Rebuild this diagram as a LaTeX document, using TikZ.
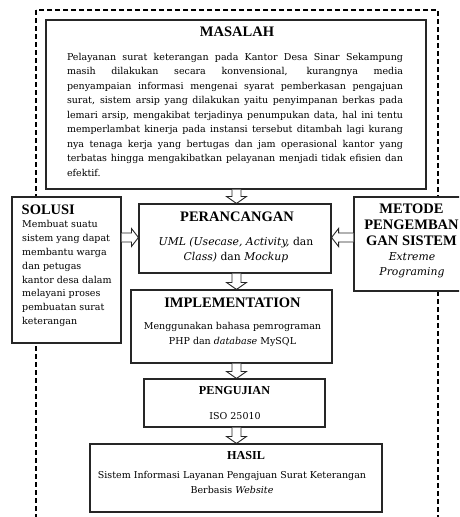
\documentclass[tikz,border=0pt]{standalone}
\usepackage{fontspec}
\setmainfont{DejaVu Serif}
\newfontfamily\ttlfont{Liberation Serif}
\usetikzlibrary{calc}
\newcommand{\vblock}[2]{%
  \draw[blockarr] ($(ax |- #1.south)+(-4.5,0)$) -- ($(ax |- #2.north)+(-4.5,-7)$)
    -- ($(ax |- #2.north)+(-10,-7)$) -- (ax |- #2.north) -- ($(ax |- #2.north)+(10,-7)$)
    -- ($(ax |- #2.north)+(4.5,-7)$) -- ($(ax |- #1.south)+(4.5,0)$);}
\begin{document}
\begin{tikzpicture}[x=1pt,y=-1pt,
  box/.style={draw=black!85, line width=1.1pt, fill=white, inner sep=0},
  outer/.style={draw, line width=1.7pt, dash pattern=on 5pt off 3pt},
  blockarr/.style={draw=black!85, line width=0.9pt, fill=white, line join=miter},
  ttl/.style={font=\ttlfont\bfseries\fontsize{14.5}{16}\selectfont, inner sep=0},
  ttls/.style={font=\ttlfont\bfseries\fontsize{12.2}{14}\selectfont, inner sep=0},
  body/.style={font=\fontsize{9.5}{14.5}\selectfont, inner sep=0, align=center},
  bigbody/.style={font=\fontsize{10.8}{15}\selectfont, inner sep=0, align=center}]
\clip (0,0) rectangle (459,517);
\useasboundingbox (0,0) rectangle (459,517);
\fill[white] (0,0) rectangle (459,517);
\coordinate (ax) at (236.5,0);
\coordinate (ay) at (0,237.5);
% outer dashed frame
\draw[outer] (36,10) rectangle (438,540);
% boxes
\node[box, minimum width=380, minimum height=169] (mas) at (236,104.5) {};
\node[box, minimum width=192, minimum height=69] (per) at (235,238.5) {};
\node[box, minimum width=109, minimum height=146] (sol) at (66.5,270) {};
\node[box, minimum width=118, minimum height=94] (met) at (413,244) {};
\node[box, minimum width=201, minimum height=73] (imp) at (231.5,326.5) {};
\node[box, minimum width=181, minimum height=48] (pen) at (234.5,403) {};
\node[box, minimum width=292, minimum height=68] (has) at (236,478) {};
% texts
\node[ttl] (masT) at (237,32) {MASALAH};
\node[body, text width=336pt, align=justify, anchor=north] (masB) at (235,53) {%
Pelayanan surat keterangan pada Kantor Desa Sinar Sekampung\linebreak
masih dilakukan secara konvensional, kurangnya media\linebreak
penyampaian informasi mengenai syarat pemberkasan pengajuan\linebreak
surat, sistem arsip yang dilakukan yaitu penyimpanan berkas pada\linebreak
lemari arsip, mengakibat terjadinya penumpukan data, hal ini tentu\linebreak
memperlambat kinerja pada instansi tersebut ditambah lagi kurang\linebreak
nya tenaga kerja yang bertugas dan jam operasional kantor yang\linebreak
terbatas hingga mengakibatkan pelayanan menjadi tidak efisien dan\linebreak
efektif.};
\node[ttl] (perT) at (237,217) {PERANCANGAN};
\node[bigbody, anchor=north] (perB) at (236,237.5) {\textit{UML (Usecase, Activity,} dan\\\textit{Class)} dan \textit{Mockup}};
\node[ttl, anchor=west] (solT) at (21.5,210) {SOLUSI};
\node[body, align=left, anchor=north west, font=\fontsize{9.5}{13.8}\selectfont] (solB) at (22,220.5) {Membuat suatu\\sistem yang dapat\\membantu warga\\dan petugas\\kantor desa dalam\\melayani proses\\pembuatan surat\\keterangan};
\node[ttl, align=center, anchor=north] (metT) at (411.5,204) {METODE\\PENGEMBAN\\GAN SISTEM};
\node[bigbody, anchor=north, font=\itshape\fontsize{10.8}{15}\selectfont] (metB) at (412,252) {Extreme\\Programing};
\node[ttl] (impT) at (232.5,303) {IMPLEMENTATION};
\node[body, anchor=north] (impB) at (232.5,322.5) {Menggunakan bahasa pemrograman\\PHP dan \textit{database} MySQL};
\node[ttls] (penT) at (234.5,391) {PENGUJIAN};
\node[body] (penB) at (235,416) {ISO 25010};
\node[ttls] (hasT) at (246,456) {HASIL};
\node[body, anchor=north] (hasB) at (232,471.5) {Sistem Informasi Layanan Pengajuan Surat Keterangan\\Berbasis \textit{Website}};
% arrows
\vblock{mas}{per}
\vblock{per}{imp}
\vblock{imp}{pen}
\vblock{pen}{has}
\draw[blockarr] ($(sol.east |- ay)+(0,-4.5)$) -- ($(per.west |- ay)+(-7,-4.5)$)
  -- ($(per.west |- ay)+(-7,-9)$) -- (per.west |- ay) -- ($(per.west |- ay)+(-7,9)$)
  -- ($(per.west |- ay)+(-7,4.5)$) -- ($(sol.east |- ay)+(0,4.5)$);
\draw[blockarr] ($(met.west |- ay)+(0,-4.5)$) -- ($(per.east |- ay)+(7,-4.5)$)
  -- ($(per.east |- ay)+(7,-9)$) -- (per.east |- ay) -- ($(per.east |- ay)+(7,9)$)
  -- ($(per.east |- ay)+(7,4.5)$) -- ($(met.west |- ay)+(0,4.5)$);
\end{tikzpicture}
\end{document}
